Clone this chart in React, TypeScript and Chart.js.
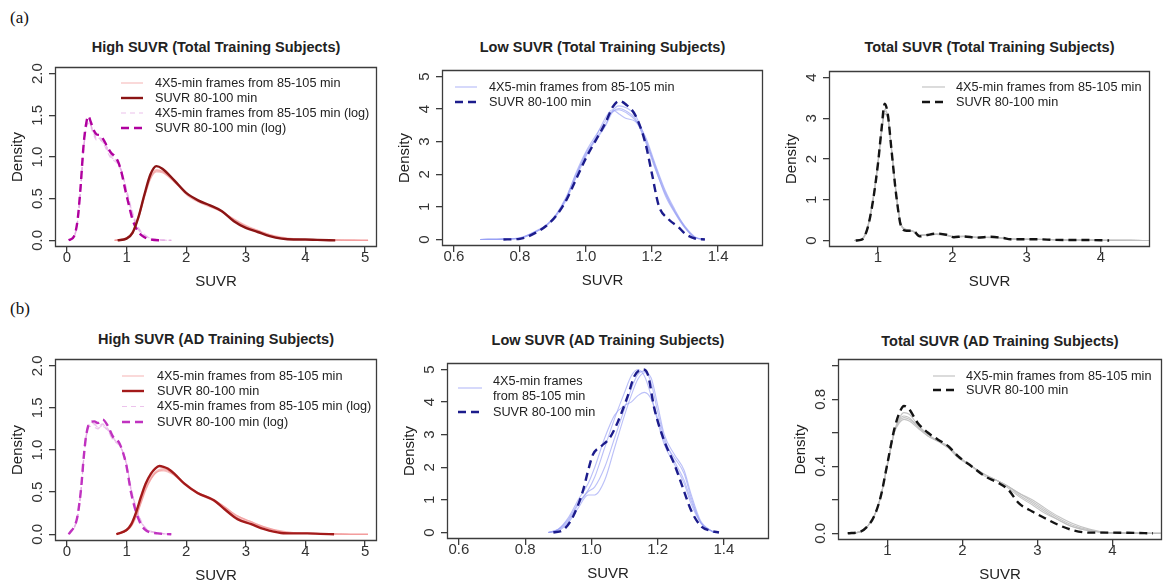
import React, { useEffect, useRef } from 'react';
import { Chart, registerables } from 'chart.js';
Chart.register(...registerables);

const FONT = '"Liberation Sans", Arial, Helvetica, sans-serif';
Chart.defaults.font.family = FONT;

// ---------------- DATA ----------------
// (a) High SUVR (Total Training Subjects)
const A1_RED_X = [0.85, 1.0, 1.1, 1.2, 1.3, 1.4, 1.5, 1.6, 1.8, 2.0, 2.2, 2.4, 2.6, 2.8, 3.0, 3.2, 3.4, 3.6, 3.8, 4.0, 4.2, 4.5];
const A1_RED_Y = [0, 0.02, 0.09, 0.28, 0.55, 0.79, 0.89, 0.86, 0.72, 0.57, 0.48, 0.42, 0.35, 0.23, 0.15, 0.10, 0.05, 0.02, 0.01, 0.01, 0.005, 0];
const A1_FR_X = [0.8, 1.0, 1.1, 1.2, 1.3, 1.4, 1.5, 1.6, 1.8, 2.0, 2.2, 2.4, 2.6, 2.8, 3.0, 3.2, 3.4, 3.6, 3.8, 4.0, 4.4, 4.8, 5.05];
const A1_FR1 = [0, 0.03, 0.10, 0.29, 0.54, 0.75, 0.83, 0.82, 0.70, 0.56, 0.47, 0.41, 0.35, 0.25, 0.17, 0.12, 0.07, 0.03, 0.015, 0.01, 0.005, 0.002, 0];
const A1_FR2 = [0, 0.02, 0.09, 0.27, 0.52, 0.74, 0.84, 0.83, 0.71, 0.57, 0.48, 0.41, 0.34, 0.24, 0.16, 0.11, 0.06, 0.03, 0.01, 0.01, 0.004, 0.001, 0];
const A1_FR3 = [0, 0.03, 0.11, 0.30, 0.56, 0.77, 0.85, 0.83, 0.71, 0.55, 0.46, 0.40, 0.34, 0.26, 0.18, 0.12, 0.07, 0.04, 0.02, 0.01, 0.005, 0.002, 0];
const A1_FR4 = [0, 0.02, 0.08, 0.26, 0.51, 0.73, 0.82, 0.81, 0.70, 0.57, 0.48, 0.42, 0.35, 0.25, 0.17, 0.11, 0.06, 0.03, 0.015, 0.01, 0.004, 0.001, 0];
const A1_LOG_X = [0.03, 0.12, 0.18, 0.23, 0.28, 0.33, 0.36, 0.4, 0.45, 0.5, 0.56, 0.62, 0.68, 0.74, 0.8, 0.86, 0.92, 0.98, 1.04, 1.1, 1.18, 1.27, 1.4, 1.6];
const A1_LOG_Y = [0, 0.05, 0.25, 0.65, 1.15, 1.43, 1.49, 1.42, 1.32, 1.27, 1.26, 1.20, 1.12, 1.05, 1.01, 0.94, 0.80, 0.60, 0.42, 0.25, 0.12, 0.05, 0.01, 0];
const A1_LFR_X = [0.03, 0.12, 0.18, 0.23, 0.28, 0.33, 0.36, 0.4, 0.45, 0.5, 0.56, 0.62, 0.68, 0.74, 0.8, 0.86, 0.92, 0.98, 1.04, 1.1, 1.18, 1.27, 1.4, 1.55, 1.75];
const A1_LFR1 = [0, 0.05, 0.24, 0.62, 1.10, 1.38, 1.41, 1.38, 1.28, 1.22, 1.22, 1.18, 1.10, 1.02, 0.99, 0.94, 0.82, 0.64, 0.46, 0.30, 0.15, 0.07, 0.02, 0.005, 0];
const A1_LFR2 = [0, 0.04, 0.22, 0.60, 1.08, 1.36, 1.40, 1.36, 1.26, 1.20, 1.20, 1.16, 1.08, 1.00, 0.97, 0.93, 0.83, 0.66, 0.49, 0.32, 0.17, 0.08, 0.025, 0.006, 0];
const A1_LFR3 = [0, 0.05, 0.25, 0.64, 1.12, 1.40, 1.43, 1.38, 1.30, 1.24, 1.21, 1.15, 1.06, 0.98, 0.95, 0.91, 0.82, 0.67, 0.50, 0.34, 0.18, 0.09, 0.03, 0.008, 0];
const A1_LFR4 = [0, 0.04, 0.23, 0.61, 1.09, 1.37, 1.42, 1.39, 1.29, 1.23, 1.23, 1.19, 1.11, 1.03, 0.98, 0.92, 0.80, 0.63, 0.47, 0.31, 0.16, 0.07, 0.02, 0.005, 0];

// (a) Low SUVR (Total Training Subjects)
const A2_MAIN_X = [0.75, 0.8, 0.85, 0.88, 0.91, 0.94, 0.97, 1.0, 1.03, 1.06, 1.08, 1.1, 1.12, 1.15, 1.18, 1.2, 1.22, 1.25, 1.28, 1.3, 1.33, 1.36];
const A2_MAIN_Y = [0, 0.02, 0.22, 0.42, 0.73, 1.20, 1.85, 2.50, 3.05, 3.60, 4.05, 4.25, 4.15, 3.80, 2.95, 2.00, 1.05, 0.62, 0.38, 0.18, 0.03, 0];
const A2_FR_X = [0.68, 0.75, 0.8, 0.85, 0.88, 0.91, 0.94, 0.97, 1.0, 1.03, 1.06, 1.08, 1.1, 1.12, 1.15, 1.18, 1.21, 1.24, 1.27, 1.3, 1.33, 1.36];
const A2_FR1 = [0, 0.01, 0.04, 0.25, 0.43, 0.75, 1.25, 1.95, 2.65, 3.10, 3.55, 3.95, 4.10, 4.05, 3.80, 3.10, 2.20, 1.35, 0.80, 0.35, 0.06, 0];
const A2_FR2 = [0, 0.01, 0.05, 0.27, 0.45, 0.78, 1.30, 2.00, 2.60, 3.05, 3.50, 3.90, 3.98, 3.90, 3.65, 3.05, 2.25, 1.45, 0.85, 0.40, 0.08, 0];
const A2_FR3 = [0, 0.01, 0.04, 0.24, 0.44, 0.72, 1.20, 1.90, 2.55, 3.15, 3.75, 3.98, 3.85, 3.72, 3.62, 3.15, 2.30, 1.50, 0.90, 0.38, 0.07, 0];
const A2_FR4 = [0, 0.01, 0.05, 0.26, 0.42, 0.76, 1.28, 2.05, 2.70, 3.20, 3.65, 3.92, 4.02, 3.95, 3.70, 3.00, 2.15, 1.40, 0.82, 0.36, 0.06, 0];

// (a) Total SUVR (Total Training Subjects)
const A3_MAIN_X = [0.7, 0.78, 0.86, 0.93, 1.0, 1.045, 1.09, 1.135, 1.18, 1.25, 1.31, 1.38, 1.47, 1.56, 1.65, 1.79, 1.92, 2.02, 2.15, 2.33, 2.51, 2.69, 2.78, 3.0, 3.14, 3.37, 3.6, 3.85, 4.11];
const A3_MAIN_Y = [0, 0.02, 0.31, 0.95, 1.90, 2.70, 3.36, 3.05, 2.24, 1.03, 0.35, 0.24, 0.24, 0.10, 0.13, 0.17, 0.14, 0.08, 0.10, 0.07, 0.09, 0.06, 0.03, 0.03, 0.03, 0.015, 0.01, 0.01, 0];
const A3_FR_X = [0.68, 0.78, 0.86, 0.93, 1.0, 1.045, 1.09, 1.135, 1.18, 1.25, 1.31, 1.38, 1.47, 1.56, 1.65, 1.79, 1.92, 2.02, 2.15, 2.33, 2.51, 2.69, 2.78, 3.0, 3.14, 3.37, 3.6, 3.85, 4.11, 4.4, 4.7];
const A3_FR1 = [0, 0.03, 0.33, 0.98, 1.92, 2.65, 3.18, 3.00, 2.25, 1.05, 0.38, 0.26, 0.22, 0.13, 0.14, 0.16, 0.13, 0.09, 0.10, 0.08, 0.08, 0.06, 0.04, 0.03, 0.03, 0.02, 0.01, 0.01, 0.005, 0.002, 0];
const A3_FR2 = [0, 0.03, 0.32, 0.96, 1.88, 2.60, 3.12, 2.98, 2.28, 1.08, 0.40, 0.27, 0.23, 0.14, 0.14, 0.15, 0.13, 0.10, 0.10, 0.08, 0.07, 0.06, 0.04, 0.03, 0.03, 0.02, 0.012, 0.008, 0.005, 0.002, 0];
const A3_FR3 = [0, 0.02, 0.30, 0.99, 1.95, 2.70, 3.22, 3.02, 2.22, 1.02, 0.37, 0.25, 0.22, 0.12, 0.13, 0.16, 0.14, 0.09, 0.09, 0.08, 0.08, 0.05, 0.04, 0.035, 0.03, 0.02, 0.01, 0.01, 0.004, 0.002, 0];
const A3_FR4 = [0, 0.03, 0.34, 0.97, 1.90, 2.62, 3.10, 2.96, 2.26, 1.06, 0.39, 0.27, 0.23, 0.13, 0.14, 0.15, 0.12, 0.09, 0.10, 0.07, 0.08, 0.06, 0.04, 0.03, 0.025, 0.02, 0.01, 0.008, 0.004, 0.002, 0];

// (b) High SUVR (AD Training Subjects)
const B1_RED_X = [0.83, 1.0, 1.08, 1.16, 1.24, 1.32, 1.41, 1.48, 1.55, 1.62, 1.69, 1.8, 1.97, 2.19, 2.47, 2.64, 2.86, 3.09, 3.31, 3.59, 3.8, 4.03, 4.25, 4.48];
const B1_RED_Y = [0, 0.05, 0.12, 0.26, 0.44, 0.60, 0.72, 0.78, 0.81, 0.80, 0.78, 0.72, 0.60, 0.49, 0.40, 0.30, 0.18, 0.12, 0.06, 0.015, 0.01, 0.01, 0.005, 0];
const B1_FR_X = [0.83, 1.0, 1.08, 1.16, 1.24, 1.32, 1.41, 1.48, 1.55, 1.62, 1.69, 1.8, 1.97, 2.19, 2.47, 2.64, 2.86, 3.09, 3.31, 3.59, 3.8, 4.03, 4.4, 4.75, 5.05];
const B1_FR1 = [0, 0.04, 0.10, 0.22, 0.38, 0.54, 0.66, 0.73, 0.76, 0.77, 0.76, 0.71, 0.60, 0.49, 0.40, 0.32, 0.21, 0.14, 0.08, 0.03, 0.015, 0.01, 0.004, 0.001, 0];
const B1_FR2 = [0, 0.04, 0.09, 0.20, 0.36, 0.52, 0.65, 0.72, 0.75, 0.76, 0.75, 0.71, 0.61, 0.50, 0.41, 0.33, 0.22, 0.15, 0.09, 0.035, 0.018, 0.01, 0.004, 0.001, 0];
const B1_FR3 = [0, 0.05, 0.11, 0.23, 0.40, 0.56, 0.68, 0.74, 0.77, 0.78, 0.76, 0.70, 0.59, 0.48, 0.39, 0.31, 0.20, 0.13, 0.08, 0.03, 0.015, 0.01, 0.003, 0.001, 0];
const B1_FR4 = [0, 0.04, 0.10, 0.21, 0.37, 0.53, 0.66, 0.72, 0.75, 0.75, 0.74, 0.70, 0.60, 0.50, 0.41, 0.33, 0.22, 0.15, 0.09, 0.04, 0.02, 0.01, 0.004, 0.001, 0];
const B1_LOG_X = [0.03, 0.16, 0.2, 0.24, 0.28, 0.32, 0.38, 0.46, 0.52, 0.6, 0.69, 0.77, 0.88, 0.99, 1.08, 1.19, 1.3, 1.52, 1.75];
const B1_LOG_Y = [0, 0.16, 0.32, 0.56, 0.90, 1.16, 1.32, 1.34, 1.32, 1.36, 1.28, 1.16, 1.08, 0.84, 0.48, 0.20, 0.06, 0.01, 0];
const B1_LFR1 = [0, 0.15, 0.30, 0.54, 0.88, 1.14, 1.30, 1.30, 1.27, 1.30, 1.24, 1.14, 1.07, 0.86, 0.52, 0.24, 0.08, 0.015, 0];
const B1_LFR2 = [0, 0.16, 0.31, 0.55, 0.89, 1.15, 1.28, 1.27, 1.25, 1.28, 1.22, 1.13, 1.06, 0.87, 0.54, 0.25, 0.09, 0.02, 0];
const B1_LFR3 = [0, 0.14, 0.29, 0.53, 0.87, 1.13, 1.31, 1.32, 1.28, 1.31, 1.25, 1.15, 1.08, 0.85, 0.50, 0.22, 0.07, 0.012, 0];
const B1_LFR4 = [0, 0.15, 0.31, 0.56, 0.90, 1.16, 1.33, 1.31, 1.26, 1.29, 1.23, 1.12, 1.05, 0.86, 0.53, 0.26, 0.09, 0.02, 0];

// (b) Low SUVR (AD Training Subjects)
const B2_MAIN_X = [0.885, 0.915, 0.945, 0.975, 0.99, 1.005, 1.03, 1.055, 1.08, 1.11, 1.13, 1.155, 1.17, 1.19, 1.22, 1.25, 1.275, 1.3, 1.33, 1.36, 1.385];
const B2_MAIN_Y = [0, 0.08, 0.5, 1.3, 1.9, 2.4, 2.65, 2.9, 3.4, 4.2, 4.8, 5.0, 4.85, 3.8, 2.8, 2.1, 1.4, 0.7, 0.2, 0.05, 0];
const B2_FR_X = [0.87, 0.9, 0.93, 0.96, 0.99, 1.01, 1.04, 1.07, 1.1, 1.12, 1.14, 1.16, 1.18, 1.2, 1.22, 1.25, 1.28, 1.3, 1.33, 1.37];
const B2_FR1 = [0, 0.1, 0.4, 0.9, 1.3, 1.7, 2.6, 3.5, 4.3, 4.8, 5.0, 4.8, 4.2, 3.4, 2.7, 2.1, 1.5, 0.9, 0.3, 0];
const B2_FR2 = [0, 0.05, 0.3, 0.75, 1.15, 1.15, 1.6, 2.6, 3.6, 4.2, 4.7, 4.9, 4.75, 3.9, 3.0, 2.4, 1.9, 1.2, 0.35, 0];
const B2_FR3 = [0, 0.1, 0.45, 1.0, 1.5, 2.0, 2.9, 3.6, 3.9, 4.0, 4.2, 4.3, 4.1, 3.5, 2.8, 2.3, 1.8, 1.1, 0.3, 0];
const B2_FR4 = [0, 0.08, 0.35, 0.85, 1.25, 1.4, 2.0, 2.9, 3.8, 4.4, 4.85, 4.95, 4.6, 3.7, 2.9, 2.2, 1.6, 1.0, 0.3, 0];

// (b) Total SUVR (AD Training Subjects)
const B3_MAIN_X = [0.47, 0.64, 0.73, 0.82, 0.91, 1.0, 1.09, 1.16, 1.22, 1.29, 1.4, 1.54, 1.67, 1.81, 1.94, 2.12, 2.3, 2.48, 2.61, 2.75, 2.93, 3.1, 3.28, 3.46, 3.69, 3.91, 4.2, 4.54];
const B3_MAIN_Y = [0, 0.01, 0.04, 0.10, 0.22, 0.42, 0.62, 0.72, 0.76, 0.74, 0.66, 0.60, 0.56, 0.52, 0.46, 0.40, 0.34, 0.30, 0.26, 0.18, 0.13, 0.09, 0.05, 0.02, 0.004, 0.004, 0.003, 0];
const B3_FR_X = [0.47, 0.64, 0.73, 0.82, 0.91, 1.0, 1.09, 1.16, 1.22, 1.29, 1.4, 1.54, 1.67, 1.81, 1.94, 2.12, 2.3, 2.48, 2.61, 2.75, 2.93, 3.1, 3.28, 3.46, 3.69, 3.91, 4.2, 4.7];
const B3_FR1 = [0, 0.01, 0.04, 0.10, 0.22, 0.41, 0.60, 0.68, 0.70, 0.69, 0.64, 0.59, 0.55, 0.51, 0.46, 0.40, 0.35, 0.31, 0.28, 0.24, 0.19, 0.14, 0.09, 0.05, 0.02, 0.005, 0.002, 0];
const B3_FR2 = [0, 0.01, 0.04, 0.10, 0.22, 0.41, 0.60, 0.66, 0.68, 0.67, 0.63, 0.58, 0.55, 0.52, 0.46, 0.40, 0.35, 0.31, 0.28, 0.23, 0.18, 0.13, 0.08, 0.04, 0.015, 0.004, 0.001, 0];
const B3_FR3 = [0, 0.01, 0.04, 0.10, 0.22, 0.42, 0.61, 0.69, 0.72, 0.71, 0.65, 0.59, 0.55, 0.51, 0.45, 0.40, 0.34, 0.31, 0.28, 0.24, 0.20, 0.15, 0.10, 0.06, 0.025, 0.006, 0.002, 0];
const B3_FR4 = [0, 0.01, 0.04, 0.10, 0.22, 0.41, 0.60, 0.67, 0.69, 0.68, 0.64, 0.58, 0.55, 0.52, 0.46, 0.40, 0.35, 0.31, 0.27, 0.22, 0.17, 0.12, 0.08, 0.04, 0.015, 0.004, 0.001, 0];

// Ticks
const X_TICKS_HIGH = [0, 1, 2, 3, 4, 5];
const X_LABELS_HIGH = ['0', '1', '2', '3', '4', '5'];
const X_TICKS_LOW = [0.6, 0.8, 1.0, 1.2, 1.4];
const X_LABELS_LOW = ['0.6', '0.8', '1.0', '1.2', '1.4'];
const X_TICKS_TOT = [1, 2, 3, 4];
const X_LABELS_TOT = ['1', '2', '3', '4'];
const Y_TICKS_HIGH = [0, 0.5, 1.0, 1.5, 2.0];
const Y_LABELS_HIGH = ['0.0', '0.5', '1.0', '1.5', '2.0'];
const Y_TICKS_LOW = [0, 1, 2, 3, 4, 5];
const Y_LABELS_LOW = ['0', '1', '2', '3', '4', '5'];
const Y_TICKS_TOT_A = [0, 1, 2, 3, 4];
const Y_LABELS_TOT_A = ['0', '1', '2', '3', '4'];
const Y_TICKS_TOT_B = [0, 0.2, 0.4, 0.6, 0.8, 1.0];
const Y_LABELS_TOT_B = ['0.0', '', '0.4', '', '0.8', ''];

const LBL_FRAMES = '4X5-min frames from 85-105 min';
const LBL_SUVR = 'SUVR 80-100 min';
const LBL_FRAMES_LOG = '4X5-min frames from 85-105 min (log)';
const LBL_SUVR_LOG = 'SUVR 80-100 min (log)';

// ---------------- STYLES ----------------
const C_RED_A = '#8b1414';
const C_RED_B = '#a31a1a';
const C_PINK = 'rgba(242,150,150,0.6)';
const C_MAG_A = '#b0009e';
const C_MAG_B = '#c032c0';
const C_LPINK = 'rgba(228,170,228,0.7)';
const C_LBLUE = 'rgba(150,158,245,0.65)';
const C_NAVY = '#1c1c8c';
const C_GRAY = 'rgba(190,190,190,0.9)';
const C_BLACK = '#141414';
const C_AXIS = '#3c3c3c';
const DASH = [8, 5];

type Series = { x: number[]; y: number[]; color: string; width: number; dash?: number[]; order: number };
type LegendItem = { lines: string[]; lineYs: number[]; sampleY: number; color: string; width: number; dash?: number[] };
type PanelCfg = {
  title: string;
  titleY: number;
  box: [number, number, number, number];
  xr: [number, number];
  yr: [number, number];
  xTicks: number[];
  xLabels: string[];
  yTicks: number[];
  yLabels: string[];
  yPad: number;
  series: Series[];
  legend: { sx: number; slen: number; tx: number; items: LegendItem[] };
};

const frames = (xs: number[], ys: number[][], color: string, dash?: number[]): Series[] =>
  ys.map((y) => ({ x: xs, y, color, width: 1.1, dash, order: 2 }));

const PANELS: PanelCfg[] = [
  {
    title: 'High SUVR (Total Training Subjects)', titleY: 47, box: [55, 67, 377, 247],
    xr: [-0.2, 5.2], yr: [-0.08, 2.08], xTicks: X_TICKS_HIGH, xLabels: X_LABELS_HIGH,
    yTicks: Y_TICKS_HIGH, yLabels: Y_LABELS_HIGH, yPad: 1,
    series: [
      ...frames(A1_FR_X, [A1_FR1, A1_FR2, A1_FR3, A1_FR4], C_PINK),
      ...frames(A1_LFR_X, [A1_LFR1, A1_LFR2, A1_LFR3, A1_LFR4], C_LPINK, [5, 4]),
      { x: A1_RED_X, y: A1_RED_Y, color: C_RED_A, width: 2.4, order: 0 },
      { x: A1_LOG_X, y: A1_LOG_Y, color: C_MAG_A, width: 2.4, dash: DASH, order: 0 },
    ],
    legend: {
      sx: 66, slen: 22, tx: 100, items: [
        { lines: [LBL_FRAMES], lineYs: [16], sampleY: 16, color: C_PINK, width: 1.2 },
        { lines: [LBL_SUVR], lineYs: [31], sampleY: 31, color: C_RED_A, width: 2.4 },
        { lines: [LBL_FRAMES_LOG], lineYs: [46], sampleY: 46, color: C_LPINK, width: 1.2, dash: [5, 4] },
        { lines: [LBL_SUVR_LOG], lineYs: [61], sampleY: 61, color: C_MAG_A, width: 2.4, dash: DASH },
      ],
    },
  },
  {
    title: 'Low SUVR (Total Training Subjects)', titleY: 47, box: [442, 66, 763, 246],
    xr: [0.564, 1.536], yr: [-0.2, 5.2], xTicks: X_TICKS_LOW, xLabels: X_LABELS_LOW,
    yTicks: Y_TICKS_LOW, yLabels: Y_LABELS_LOW, yPad: 7,
    series: [
      ...frames(A2_FR_X, [A2_FR1, A2_FR2, A2_FR3, A2_FR4], C_LBLUE),
      { x: A2_MAIN_X, y: A2_MAIN_Y, color: C_NAVY, width: 2.4, dash: DASH, order: 0 },
    ],
    legend: {
      sx: 13, slen: 22, tx: 47, items: [
        { lines: [LBL_FRAMES], lineYs: [17], sampleY: 17, color: C_LBLUE, width: 1.2 },
        { lines: [LBL_SUVR], lineYs: [32], sampleY: 32, color: C_NAVY, width: 2.4, dash: DASH },
      ],
    },
  },
  {
    title: 'Total SUVR (Total Training Subjects)', titleY: 47, box: [829, 67, 1150, 247],
    xr: [0.34, 4.66], yr: [-0.16, 4.16], xTicks: X_TICKS_TOT, xLabels: X_LABELS_TOT,
    yTicks: Y_TICKS_TOT_A, yLabels: Y_LABELS_TOT_A, yPad: 7,
    series: [
      ...frames(A3_FR_X, [A3_FR1, A3_FR2, A3_FR3, A3_FR4], C_GRAY),
      { x: A3_MAIN_X, y: A3_MAIN_Y, color: C_BLACK, width: 2.4, dash: DASH, order: 0 },
    ],
    legend: {
      sx: 93, slen: 23, tx: 127, items: [
        { lines: [LBL_FRAMES], lineYs: [16], sampleY: 16, color: C_GRAY, width: 1.2 },
        { lines: [LBL_SUVR], lineYs: [31], sampleY: 31, color: C_BLACK, width: 2.4, dash: DASH },
      ],
    },
  },
  {
    title: 'High SUVR (AD Training Subjects)', titleY: 339, box: [55, 359, 377, 541],
    xr: [-0.2, 5.2], yr: [-0.08, 2.08], xTicks: X_TICKS_HIGH, xLabels: X_LABELS_HIGH,
    yTicks: Y_TICKS_HIGH, yLabels: Y_LABELS_HIGH, yPad: 1,
    series: [
      ...frames(B1_FR_X, [B1_FR1, B1_FR2, B1_FR3, B1_FR4], C_PINK),
      ...frames(B1_LOG_X, [B1_LFR1, B1_LFR2, B1_LFR3, B1_LFR4], C_LPINK, [5, 4]),
      { x: B1_RED_X, y: B1_RED_Y, color: C_RED_B, width: 2.4, order: 0 },
      { x: B1_LOG_X, y: B1_LOG_Y, color: C_MAG_B, width: 2.4, dash: DASH, order: 0 },
    ],
    legend: {
      sx: 67, slen: 22, tx: 102, items: [
        { lines: [LBL_FRAMES], lineYs: [17], sampleY: 17, color: C_PINK, width: 1.2 },
        { lines: [LBL_SUVR], lineYs: [32], sampleY: 32, color: C_RED_B, width: 2.4 },
        { lines: [LBL_FRAMES_LOG], lineYs: [47.5], sampleY: 47.5, color: C_LPINK, width: 1.2, dash: [5, 4] },
        { lines: [LBL_SUVR_LOG], lineYs: [63], sampleY: 63, color: C_MAG_B, width: 2.4, dash: DASH },
      ],
    },
  },
  {
    title: 'Low SUVR (AD Training Subjects)', titleY: 340, box: [447, 359, 769, 539],
    xr: [0.564, 1.536], yr: [-0.2, 5.2], xTicks: X_TICKS_LOW, xLabels: X_LABELS_LOW,
    yTicks: Y_TICKS_LOW, yLabels: Y_LABELS_LOW, yPad: 7,
    series: [
      ...frames(B2_FR_X, [B2_FR1, B2_FR2, B2_FR3, B2_FR4], C_LBLUE),
      { x: B2_MAIN_X, y: B2_MAIN_Y, color: C_NAVY, width: 2.4, dash: DASH, order: 0 },
    ],
    legend: {
      sx: 11, slen: 24, tx: 46, items: [
        { lines: ['4X5-min frames', 'from 85-105 min'], lineYs: [18, 33], sampleY: 25, color: C_LBLUE, width: 1.2 },
        { lines: [LBL_SUVR], lineYs: [49], sampleY: 49, color: C_NAVY, width: 2.4, dash: DASH },
      ],
    },
  },
  {
    title: 'Total SUVR (AD Training Subjects)', titleY: 341, box: [838, 359, 1162, 540],
    xr: [0.34, 4.66], yr: [-0.04, 1.04], xTicks: X_TICKS_TOT, xLabels: X_LABELS_TOT,
    yTicks: Y_TICKS_TOT_B, yLabels: Y_LABELS_TOT_B, yPad: 1,
    series: [
      ...frames(B3_FR_X, [B3_FR1, B3_FR2, B3_FR3, B3_FR4], C_GRAY),
      { x: B3_MAIN_X, y: B3_MAIN_Y, color: C_BLACK, width: 2.4, dash: DASH, order: 0 },
    ],
    legend: {
      sx: 95, slen: 22, tx: 128, items: [
        { lines: [LBL_FRAMES], lineYs: [17], sampleY: 17, color: C_GRAY, width: 1.2 },
        { lines: [LBL_SUVR], lineYs: [31], sampleY: 31, color: C_BLACK, width: 2.4, dash: DASH },
      ],
    },
  },
];

// ---------------- GEOMETRY ----------------
const Y_AXIS_W = 55;
const X_AXIS_H = 45;
const PAD_TOP = 12;
const PAD_RIGHT = 4;
const PAGE_W = 1163;

function Panel({ cfg }: { cfg: PanelCfg }) {
  const ref = useRef<HTMLCanvasElement | null>(null);
  const [l, t, r, b] = cfg.box;
  const left = l - Y_AXIS_W;
  const top = t - PAD_TOP;
  const padRight = Math.max(1, Math.min(PAD_RIGHT, PAGE_W - r - 1));
  const width = r - left + padRight;
  const height = b - top + X_AXIS_H;

  useEffect(() => {
    const canvas = ref.current;
    if (!canvas) return;
    const boxPlugin = {
      id: 'rbox',
      afterDatasetsDraw(chart: any) {
        const ctx = chart.ctx as CanvasRenderingContext2D;
        const a = chart.chartArea;
        ctx.save();
        ctx.setLineDash([]);
        ctx.strokeStyle = C_AXIS;
        ctx.lineWidth = 1.3;
        ctx.beginPath();
        ctx.rect(Math.round(a.left) + 0.5, Math.round(a.top) + 0.5, Math.round(a.right - a.left) - 1, Math.round(a.bottom - a.top) - 1);
        ctx.stroke();
        // legend
        const lg = cfg.legend;
        ctx.font = `12.7px ${FONT}`;
        ctx.textBaseline = 'middle';
        ctx.textAlign = 'left';
        ctx.fillStyle = '#222';
        lg.items.forEach((it) => {
          ctx.beginPath();
          ctx.setLineDash(it.dash || []);
          ctx.strokeStyle = it.color;
          ctx.lineWidth = it.width;
          ctx.moveTo(a.left + lg.sx, a.top + it.sampleY);
          ctx.lineTo(a.left + lg.sx + lg.slen, a.top + it.sampleY);
          ctx.stroke();
          ctx.setLineDash([]);
          it.lines.forEach((txt, i) => ctx.fillText(txt, a.left + lg.tx, a.top + it.lineYs[i]));
        });
        ctx.restore();
      },
    };

    const gridOpts = {
      display: true,
      drawOnChartArea: false,
      drawTicks: true,
      tickLength: 6,
      tickColor: C_AXIS,
      tickWidth: 1.3,
      color: C_AXIS,
      lineWidth: 1.3,
    };

    const chart = new Chart(canvas, {
      type: 'line',
      data: {
        datasets: cfg.series.map((s) => ({
          data: s.x.map((xv, i) => ({ x: xv, y: s.y[i] })),
          borderColor: s.color,
          borderWidth: s.width,
          borderDash: s.dash || [],
          pointRadius: 0,
          fill: false,
          cubicInterpolationMode: 'monotone' as const,
          order: s.order,
        })),
      },
      options: {
        animation: false,
        responsive: false,
        devicePixelRatio: 1,
        events: [],
        layout: { padding: { top: PAD_TOP, right: padRight, left: 0, bottom: 0 } },
        plugins: { legend: { display: false }, tooltip: { enabled: false }, title: { display: false } },
        scales: {
          x: {
            type: 'linear',
            min: cfg.xr[0],
            max: cfg.xr[1],
            afterBuildTicks: (s: any) => { s.ticks = cfg.xTicks.map((v) => ({ value: v })); },
            afterFit: (s: any) => { s.height = X_AXIS_H; },
            ticks: {
              autoSkip: false,
              maxRotation: 0,
              minRotation: 0,
              padding: -4,
              color: '#333',
              font: { size: 15 },
              callback: (v: any) => { const i = cfg.xTicks.indexOf(Number(v)); return i >= 0 ? cfg.xLabels[i] : ''; },
            },
            grid: gridOpts,
            border: { display: false },
            title: { display: true, text: 'SUVR', color: '#222', font: { size: 15 }, padding: { top: 0, bottom: 1 } },
          },
          y: {
            type: 'linear',
            min: cfg.yr[0],
            max: cfg.yr[1],
            afterBuildTicks: (s: any) => { s.ticks = cfg.yTicks.map((v) => ({ value: v })); },
            afterFit: (s: any) => { s.width = Y_AXIS_W; },
            ticks: {
              autoSkip: false,
              minRotation: 90,
              maxRotation: 90,
              crossAlign: 'center',
              padding: cfg.yPad,
              color: '#333',
              font: { size: 15 },
              callback: (v: any) => { const i = cfg.yTicks.indexOf(Number(v)); return i >= 0 ? cfg.yLabels[i] : ''; },
            },
            grid: gridOpts,
            border: { display: false },
            title: { display: true, text: 'Density', color: '#222', font: { size: 15 }, padding: { top: 9, bottom: 0 } },
          },
        },
      },
      plugins: [boxPlugin],
    } as any);
    return () => chart.destroy();
  }, []);

  return (
    <>
      <div
        style={{
          position: 'absolute', left: l, width: r - l, top: cfg.titleY - 9, height: 18, lineHeight: '18px',
          textAlign: 'center', fontFamily: FONT, fontWeight: 'bold', fontSize: 14.5, color: '#222', whiteSpace: 'nowrap',
        }}
      >
        {cfg.title}
      </div>
      <canvas
        ref={ref}
        width={width}
        height={height}
        style={{ position: 'absolute', left, top, width, height }}
      />
    </>
  );
}

export default function App() {
  return (
    <div style={{ position: 'fixed', left: 0, top: 0, width: 1163, height: 585, background: '#fff', overflow: 'hidden' }}>
      <div style={{ position: 'absolute', left: 10, top: 8, fontFamily: '"Liberation Serif", "Times New Roman", serif', fontSize: 17, lineHeight: '20px', color: '#111' }}>(a)</div>
      <div style={{ position: 'absolute', left: 10, top: 299, fontFamily: '"Liberation Serif", "Times New Roman", serif', fontSize: 17, lineHeight: '20px', color: '#111' }}>(b)</div>
      {PANELS.map((p, i) => (
        <Panel key={i} cfg={p} />
      ))}
    </div>
  );
}
